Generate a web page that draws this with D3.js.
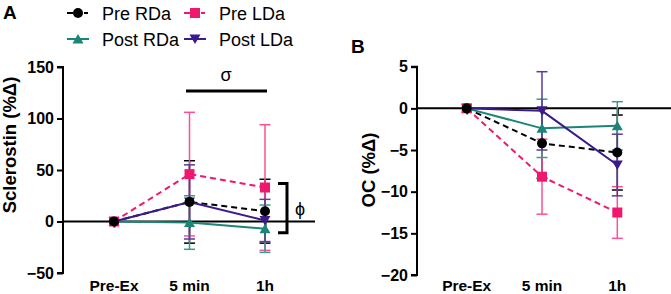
<!DOCTYPE html>
<html><head><meta charset="utf-8">
<script src="https://cdn.jsdelivr.net/npm/d3@7"></script>
<style>
body{margin:0;background:#fff;}
svg{display:block;font-family:"Liberation Sans",Arial,sans-serif;}
</style></head>
<body><svg id="c" width="671" height="294"></svg>
<script>
const categories = ["Pre-Ex","5 min","1h"];
const seriesNames = ["Pre RDa","Pre LDa","Post RDa","Post LDa"];
// Panel A: Sclerostin (%Δ)
const sclMean = {
  "Pre RDa":  [0, 19, 10],
  "Pre LDa":  [0, 46, 33],
  "Post RDa": [0, -1, -7],
  "Post LDa": [0, 19, 1]
};
const sclErr = {
  "Pre RDa":  [0, 40, 31],
  "Pre LDa":  [0, 60, 61],
  "Post RDa": [0, 26, 23],
  "Post LDa": [0, 36, 20.5]
};
// Panel B: OC (%Δ)
const ocMean = {
  "Pre RDa":  [0, -4.2, -5.3],
  "Pre LDa":  [0, -8.2, -12.5],
  "Post RDa": [0, -2.4, -2.1],
  "Post LDa": [0, -0.3, -6.8]
};
const ocErr = {
  "Pre RDa":  [0, 4.2, 4.5],
  "Pre LDa":  [0, 4.5, 3.1],
  "Post RDa": [0, 3.5, 2.9],
  "Post LDa": [0, 4.7, 3.7]
};
const sclTicks = [-50, 0, 50, 100, 150];
const ocTicks = [-20, -15, -10, -5, 0, 5];

const style = {
  "Pre RDa":  {color:"#000000", err:"#000000", dash:"6,4", sym:"circle"},
  "Pre LDa":  {color:"#f0176f", err:"#ff4f93", dash:"6,4", sym:"square"},
  "Post RDa": {color:"#1b8577", err:"#3a9a8e", dash:null, sym:"triangle"},
  "Post LDa": {color:"#3b1a8c", err:"#5a3aa0", dash:null, sym:"down"}
};

const svg = d3.select("#c");

function marker(g, sym, x, y, color){
  if(sym==="circle") g.append("circle").attr("cx",x).attr("cy",y).attr("r",5).attr("fill",color);
  else if(sym==="square") g.append("rect").attr("x",x-5).attr("y",y-5).attr("width",10).attr("height",10).attr("fill",color);
  else if(sym==="triangle") g.append("path").attr("d",`M${x},${y-5}L${x+5.5},${y+4.5}L${x-5.5},${y+4.5}Z`).attr("fill",color);
  else g.append("path").attr("d",`M${x},${y+5}L${x+5.5},${y-4.5}L${x-5.5},${y-4.5}Z`).attr("fill",color);
}

function panel(opts){
  const {x0, x1, yTop, yBot, domain, ticks, mean, err, title, titleX, titleY, catX} = opts;
  const y = d3.scaleLinear().domain(domain).range([yBot, yTop]);
  const x = d3.scalePoint().domain(categories).range(catX);
  const g = svg.append("g");
  // y axis
  const ya = g.append("g").attr("transform",`translate(${x0},0)`)
    .call(d3.axisLeft(y).tickValues(ticks).tickSize(6).tickPadding(3).tickFormat(d3.format("d")));
  ya.select(".domain").attr("stroke","#000").attr("stroke-width",2).attr("d",`M-6,${y(domain[1])}H0V${y(domain[0])}H-6`);
  ya.selectAll(".tick line").attr("stroke","#000").attr("stroke-width",2);
  ya.selectAll(".tick text").attr("font-size","16px").attr("font-weight","bold").attr("fill","#000")
    .attr("font-family","'Liberation Sans',Arial,sans-serif");
  // x axis at zero
  const xa = g.append("g").attr("transform",`translate(0,${y(0)})`)
    .call(d3.axisBottom(x).tickSize(6).tickFormat(""));
  xa.select(".domain").attr("stroke","#000").attr("stroke-width",2).attr("d",`M${x0},0H${x1}`);
  xa.selectAll(".tick line").attr("stroke","#000").attr("stroke-width",2);
  // category labels
  g.selectAll(".cat").data(categories).join("text")
    .attr("x",d=>x(d)).attr("y",291).attr("text-anchor","middle")
    .attr("font-size","15.5px").attr("font-weight","bold").text(d=>d);
  // title
  g.append("text").attr("transform",`translate(${titleX},${titleY}) rotate(-90)`)
    .attr("text-anchor","middle").attr("font-size","18.5px").attr("font-weight","bold").text(title);
  // error bars
  seriesNames.forEach(s=>{
    const st = style[s];
    categories.forEach((c,i)=>{
      if(err[s][i]===0) return;
      const m = mean[s][i], e = err[s][i], cx = x(c);
      const eg = g.append("g").attr("stroke",st.err).attr("stroke-width",1.5);
      eg.append("line").attr("x1",cx).attr("x2",cx).attr("y1",y(m+e)).attr("y2",y(m-e));
      [m+e, m-e].forEach(v=>eg.append("line").attr("x1",cx-5.5).attr("x2",cx+5.5).attr("y1",y(v)).attr("y2",y(v)));
    });
  });
  // lines
  const line = d3.line().x((d,i)=>x(categories[i])).y(d=>y(d));
  seriesNames.forEach(s=>{
    const st = style[s];
    g.append("path").attr("d",line(mean[s])).attr("fill","none").attr("stroke",st.color)
      .attr("stroke-width",2).attr("stroke-dasharray",st.dash);
  });
  // markers
  seriesNames.slice().reverse().forEach(s=>{
    const st = style[s];
    categories.forEach((c,i)=>marker(g, st.sym, x(c), y(mean[s][i]), st.color));
  });
  return {x,y,g};
}

const A = panel({x0:63, x1:315, yTop:67, yBot:273, domain:[-50,150], ticks:sclTicks,
  mean:sclMean, err:sclErr, title:"Sclerostin (%Δ)", titleX:16, titleY:145, catX:[114,265]});
const B = panel({x0:417, x1:671, yTop:66.7, yBot:275, domain:[-20,5], ticks:ocTicks,
  mean:ocMean, err:ocErr, title:"OC (%Δ)", titleX:375, titleY:170, catX:[466.7,617.3]});

// significance annotations panel A
const gA = A.g;
gA.append("line").attr("x1",186).attr("x2",267).attr("y1",91).attr("y2",91).attr("stroke","#000").attr("stroke-width",3);
gA.append("text").attr("x",226).attr("y",81).attr("text-anchor","middle").attr("font-size","18px").text("σ");
gA.append("path").attr("d",`M278,${A.y(37)}H287V${A.y(-11)}H278`).attr("fill","none").attr("stroke","#000").attr("stroke-width",3);
gA.append("text").attr("x",300).attr("y",215).attr("text-anchor","middle").attr("font-size","18px").text("ϕ");

// panel letters
svg.append("text").attr("x",3).attr("y",19).attr("font-size","19px").attr("font-weight","bold").text("A");
svg.append("text").attr("x",351).attr("y",53).attr("font-size","19px").attr("font-weight","bold").text("B");

// legend
const legPos = [[67,13],[184,13],[67,39],[184,39]];
seriesNames.forEach((s,i)=>{
  const st = style[s]; const [lx,ly] = legPos[i];
  const lg = svg.append("g");
  if(st.dash){
    lg.append("line").attr("x1",lx).attr("x2",lx+6).attr("y1",ly).attr("y2",ly).attr("stroke",st.color).attr("stroke-width",2);
    lg.append("line").attr("x1",lx+17).attr("x2",lx+21).attr("y1",ly).attr("y2",ly).attr("stroke",st.color).attr("stroke-width",2);
  } else {
    lg.append("line").attr("x1",lx).attr("x2",lx+22).attr("y1",ly).attr("y2",ly).attr("stroke",st.color).attr("stroke-width",2);
  }
  marker(lg, st.sym, lx+11, ly, st.color);
  lg.append("text").attr("x",lx+35).attr("y",ly+6.5).attr("font-size","18px").text(s);
});
</script></body></html>
